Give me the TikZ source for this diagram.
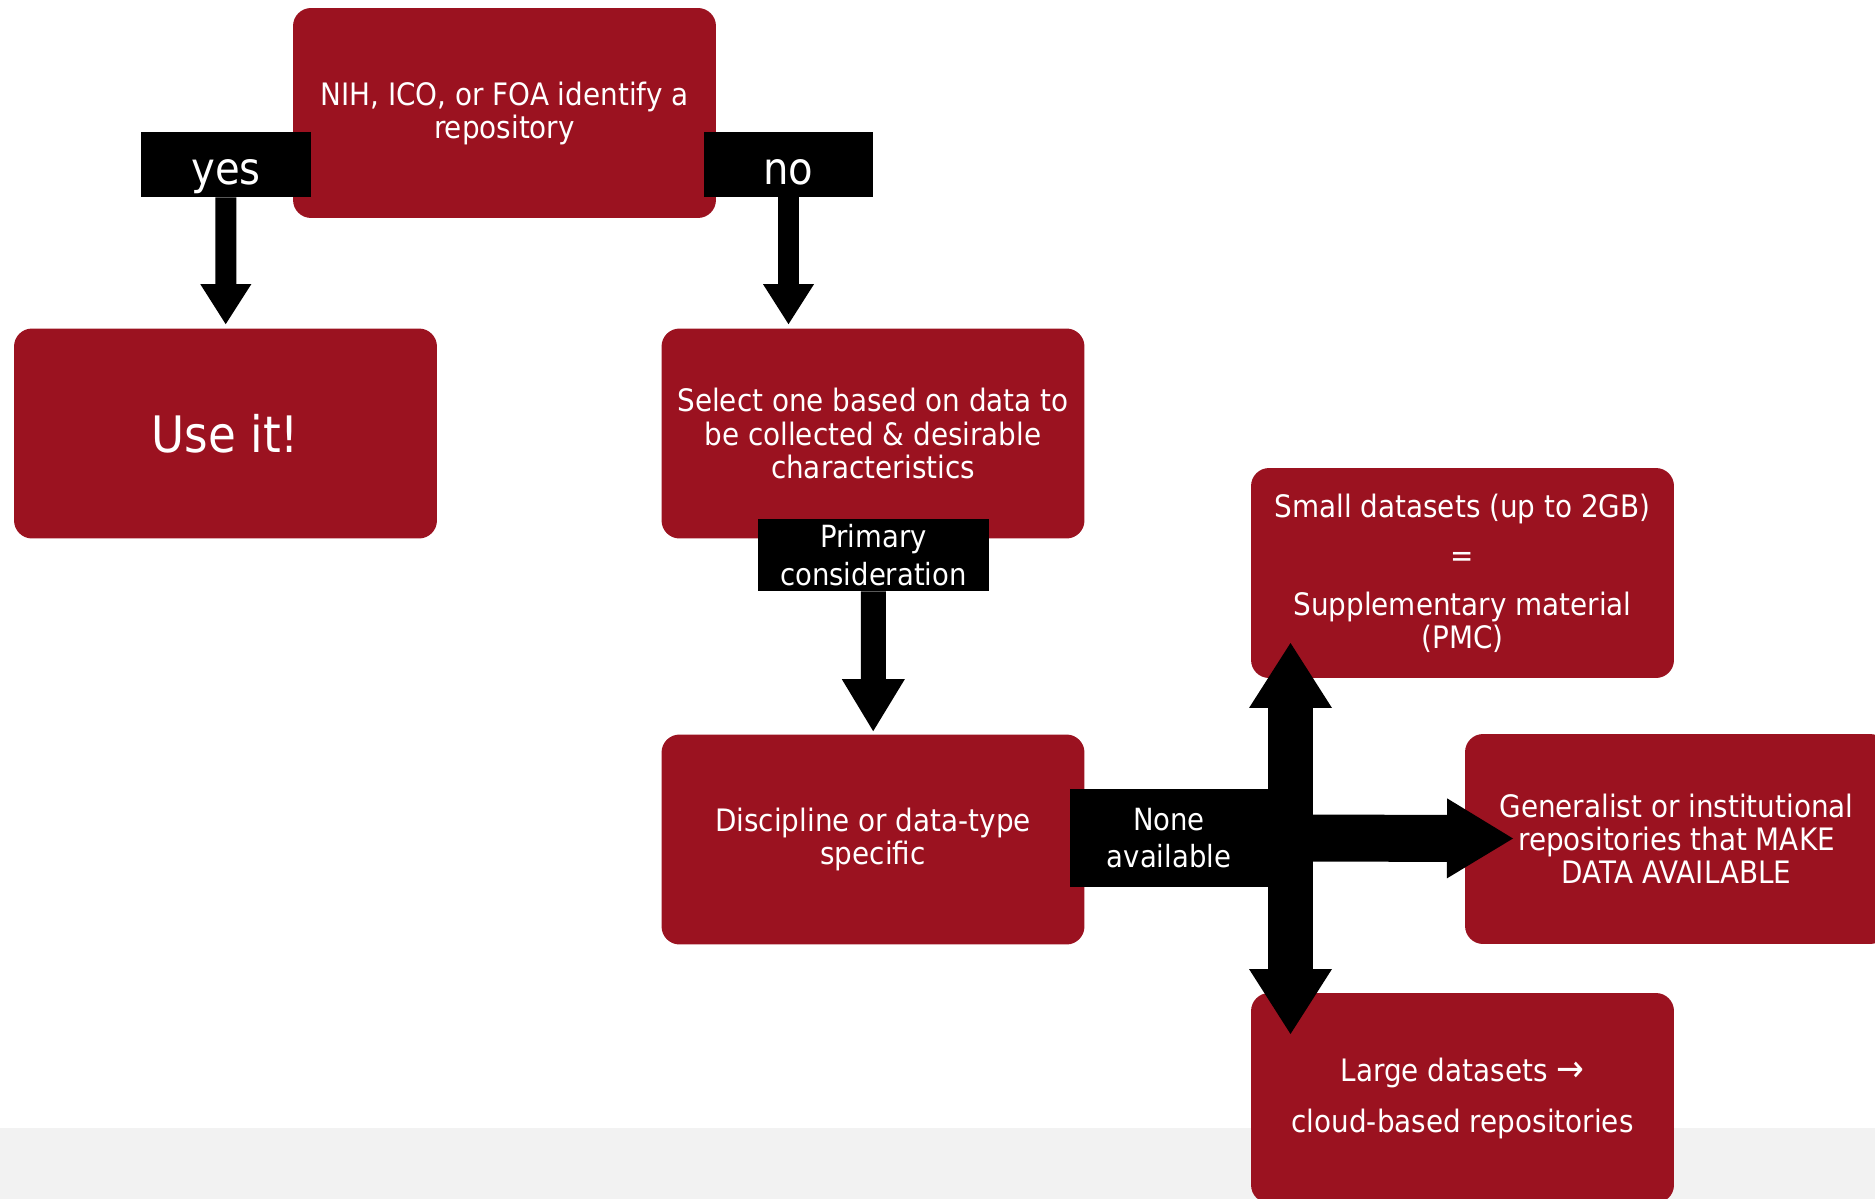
\documentclass[tikz,border=0pt]{standalone}
\usepackage{fontspec}
\setmainfont{DejaVu Sans}[FakeStretch=0.9]
\usetikzlibrary{arrows.meta}
\definecolor{boxred}{RGB}{155,18,32}
\definecolor{band}{RGB}{242,242,242}
\newcommand\bxfont{\fontsize{17.6}{18.8}\selectfont}
\newcommand\lbfont{\fontsize{17.4}{21.4}\selectfont}
\newcommand\ynfont{\fontsize{25.4}{27}\selectfont}
\tikzset{
  box/.style={fill=boxred,rounded corners=0.36cm,minimum width=8.46cm,minimum height=4.2cm,text=white,align=center,font=\bxfont},
  lab/.style={fill=black,text=white,align=center,inner sep=0pt},
  yn/.style={lab,minimum width=3.4cm,minimum height=1.3cm,text height=0.82cm,text depth=0pt,font=\ynfont},
  thin arrow/.style={line width=0.42cm,-{Triangle[width=1.02cm,length=0.8cm,line width=0pt]},shorten >=0.08cm},
  mid arrow/.style={line width=0.5cm,-{Triangle[width=1.26cm,length=1.04cm,line width=0pt]},shorten >=0.06cm},
  big tip/.tip={Triangle[width=1.66cm,length=1.3cm,line width=0pt]}
}
\begin{document}
\begin{tikzpicture}[x=0.02cm,y=-0.02cm]
\clip (0,0) rectangle (1875,1199);
\fill[band] (0,1128) rectangle (1875,1199);
\node[box] (nih)at(504.5,113){NIH, ICO, or FOA identify a\\repository};
\node[box,font=\fontsize{28.6}{30}\selectfont] (use)at(225.5,433.5){Use it!};
\node[box] (sel)at(873,433.5){Select one based on data to\\be collected \& desirable\\characteristics};
\node[box] (disc)at(873,839.5){Discipline or data-type\\specific};
\node[box] (small)at(1462.5,573){Small datasets (up to 2GB)\\[9.1pt]=\\[9.1pt]Supplementary material\\(PMC)};
\node[box] (gen)at(1676.5,839){Generalist or institutional\\repositories that MAKE\\DATA AVAILABLE};
\node[box] (large)at(1462.5,1098){Large datasets {\fontsize{21}{18.8}\selectfont →}\\[10.2pt]cloud-based repositories};
\coordinate (vup)at(1290.5,643);
\coordinate (vdn)at(1290.5,1034);
\coordinate (htip)at(1513,838.5);
\node[yn] (yes)at(226,164.5){yes};
\node[yn] (no)at(788.5,164.5){no};
\node[lab,minimum width=4.62cm,minimum height=1.44cm,font=\lbfont] (prim)at(873.5,555){Primary\\consideration};
\node[lab,minimum width=3.96cm,minimum height=1.96cm,font=\lbfont] (none)at(1169,838){None\\available};
\draw[thin arrow] (yes) to (use);
\draw[thin arrow] (no) to (no|-sel.north);
\draw[mid arrow] (prim) to (disc);
\draw[line width=0.9cm,{big tip}-{big tip}] (vup) to (vdn);
\draw[line width=0.94cm,-{Triangle[width=1.6cm,length=1.32cm,line width=0pt]}] (none.east) to (htip);
\end{tikzpicture}
\end{document}
